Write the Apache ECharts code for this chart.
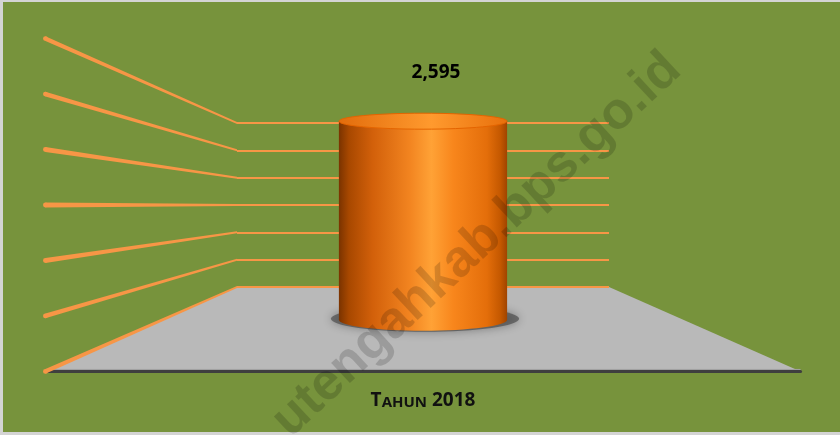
<!DOCTYPE html>
<html>
<head>
<meta charset="utf-8">
<title>Tahun 2018</title>
<script src="https://cdn.jsdelivr.net/npm/echarts@6/dist/echarts.min.js"></script>
<style>
body{margin:0;}
#main{width:840px;height:435px;}
</style>
</head>
<body>
<div id="main"></div>
<script>
// data
var categories = ['Tahun 2018'];
var values = [2595];
var gridValues = [0, 500, 1000, 1500, 2000, 2500, 3000];

// perspective: back wall = grid rect, everything else scaled from its center
var DEPTH_FRONT = 2.03;
var DEPTH_BAR = 1.40;

function project(p, c, k) {
  return [c[0] + (p[0] - c[0]) * k, c[1] + (p[1] - c[1]) * k];
}

function fmt(v) {
  return String(v).replace(/\B(?=(\d{3})+(?!\d))/g, ',');
}

var myChart = echarts.init(document.getElementById('main'));

var option = {
  backgroundColor: '#77933C',
  animation: false,
  grid: { left: 237, right: 231, top: 123, bottom: 148 },
  xAxis: {
    type: 'category',
    data: categories,
    axisLine: { show: false },
    axisTick: { show: false },
    axisLabel: {
      margin: 101,
      // small caps like the original
      formatter: function (v) {
        return v.split(' ').map(function (w) {
          if (/^\d+$/.test(w)) return '{big|' + w + '}';
          return '{big|' + w.charAt(0).toUpperCase() + '}{small|' + w.slice(1).toUpperCase() + '}';
        }).join('{big| }');
      },
      rich: {
        big: { fontFamily: 'Open Sans', fontWeight: 'bold', fontSize: 19, lineHeight: 22, color: '#111', verticalAlign: 'bottom' },
        small: { fontFamily: 'Open Sans', fontWeight: 'bold', fontSize: 15, lineHeight: 17.4, color: '#111', verticalAlign: 'bottom' }
      }
    }
  },
  yAxis: {
    type: 'value',
    min: 0,
    max: 3000,
    interval: 500,
    z: 3,
    axisLine: { show: false },
    axisTick: { show: false },
    axisLabel: { show: false },
    splitLine: { lineStyle: { color: '#F79646', width: 2 } }
  },
  graphic: [
    { type: 'rect', shape: { x: 0, y: 0, width: 3, height: 435 }, style: { fill: '#D4D4D4' }, z: 50 },
    { type: 'rect', shape: { x: 0, y: 0, width: 840, height: 2 }, style: { fill: '#D4D4D4' }, z: 50 },
    { type: 'rect', shape: { x: 0, y: 432, width: 840, height: 3 }, style: { fill: '#D4D4D4' }, z: 50 },
    {
      type: 'text',
      x: 477, y: 245,
      rotation: 43 * Math.PI / 180,
      z: 100,
      style: {
        text: 'utengahkab.bps.go.id',
        font: 'bold 52px "Liberation Sans"',
        fill: 'rgba(0,0,0,0.16)',
        align: 'center',
        verticalAlign: 'middle'
      }
    }
  ],
  series: [
    {
      // floor + side gridlines
      type: 'custom',
      z: 1,
      silent: true,
      data: gridValues.map(function (v) { return [0, v]; }),
      renderItem: function (params, api) {
        var cs = params.coordSys;
        var c = [cs.x + cs.width / 2, cs.y + cs.height / 2];
        var v = api.value(1);
        var yb = api.coord([0, v])[1];
        var back = [cs.x, yb];
        var front = project(back, c, DEPTH_FRONT);
        var children = [];
        if (v === 0) {
          var br = [cs.x + cs.width, yb];
          var fr = project(br, c, DEPTH_FRONT);
          children.push({
            type: 'polygon',
            shape: { points: [back, br, fr, front] },
            style: { fill: '#B9B9B9' }
          });
          children.push({
            type: 'line',
            shape: { x1: front[0], y1: front[1] - 2, x2: fr[0], y2: fr[1] - 2 },
            style: { stroke: '#A0A0A0', lineWidth: 1 }
          });
          children.push({
            type: 'line',
            shape: { x1: front[0], y1: front[1], x2: fr[0], y2: fr[1] },
            style: { stroke: '#3F3F3F', lineWidth: 3, lineCap: 'round' }
          });
        }
        children.push({
          type: 'polygon',
          shape: { points: [[front[0], front[1] - 2.4], [back[0], back[1] - 1], [back[0], back[1] + 1], [front[0], front[1] + 2.4]] },
          style: { fill: '#F79646' }
        });
        children.push({
          type: 'circle',
          shape: { cx: front[0], cy: front[1], r: 2.4 },
          style: { fill: '#F79646' }
        });
        return { type: 'group', children: children };
      }
    },
    {
      // the cylinder
      type: 'custom',
      z: 5,
      data: values.map(function (v, i) { return [i, v]; }),
      renderItem: function (params, api) {
        var cs = params.coordSys;
        var c = [cs.x + cs.width / 2, cs.y + cs.height / 2];
        var top = project(api.coord([api.value(0), api.value(1)]), c, DEPTH_BAR);
        var base = project(api.coord([api.value(0), 0]), c, DEPTH_BAR);
        var rx = api.size([1, 0])[0] * 0.323 * DEPTH_BAR / 2;
        var cx = top[0];
        var side = new echarts.graphic.LinearGradient(0, 0, 1, 0, [
          { offset: 0, color: '#7A3300' },
          { offset: 0.06, color: '#A84800' },
          { offset: 0.2, color: '#D2600A' },
          { offset: 0.42, color: '#F28420' },
          { offset: 0.55, color: '#FFA236' },
          { offset: 0.68, color: '#F8861C' },
          { offset: 0.88, color: '#E46E0A' },
          { offset: 0.96, color: '#C45800' },
          { offset: 1, color: '#A04400' }
        ]);
        var cap = new echarts.graphic.LinearGradient(0, 0, 1, 0, [
          { offset: 0, color: '#E26C0C' },
          { offset: 0.55, color: '#FF9A2E' },
          { offset: 1, color: '#E8700C' }
        ]);
        return {
          type: 'group',
          children: [
            {
              type: 'ellipse',
              shape: { cx: cx + 2, cy: base[1] - 1, rx: rx + 10, ry: 13 },
              style: { fill: 'rgba(70,70,70,0.65)', shadowBlur: 10, shadowColor: 'rgba(0,0,0,0.5)' }
            },
            {
              type: 'ellipse',
              shape: { cx: cx, cy: base[1], rx: rx, ry: 11 },
              style: { fill: side }
            },
            {
              type: 'rect',
              shape: { x: cx - rx, y: top[1], width: rx * 2, height: base[1] - top[1] },
              style: { fill: side }
            },
            {
              type: 'ellipse',
              shape: { cx: cx, cy: top[1], rx: rx, ry: 8 },
              style: { fill: cap, stroke: '#E46400', lineWidth: 1 }
            },
            {
              type: 'text',
              x: cx + 13, y: top[1] - 49,
              style: {
                text: fmt(api.value(1)),
                font: 'bold 19px "Open Sans"',
                fill: '#000',
                align: 'center',
                verticalAlign: 'middle'
              }
            }
          ]
        };
      }
    }
  ]
};

myChart.setOption(option);
</script>
</body>
</html>
